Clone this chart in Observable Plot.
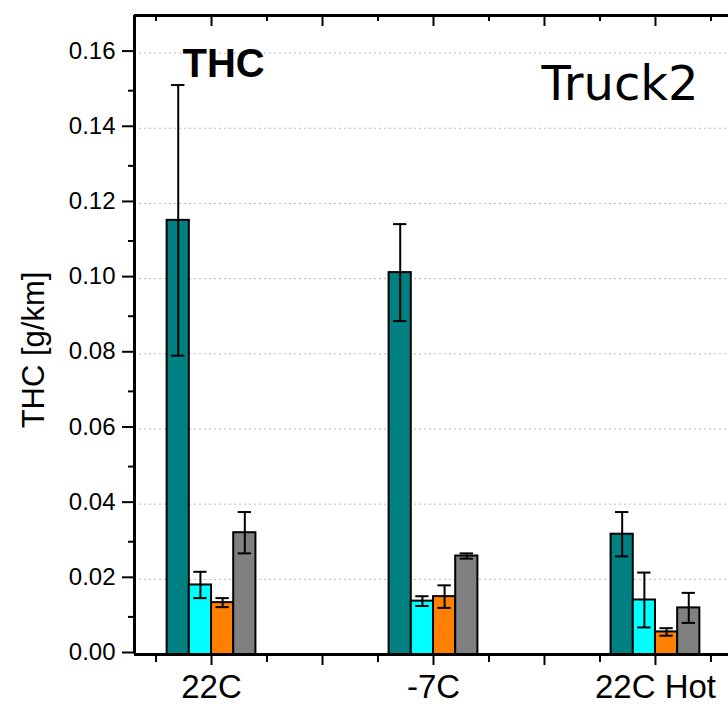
<!DOCTYPE html>
<html><head><meta charset="utf-8">
<script src="https://cdn.jsdelivr.net/npm/d3@7"></script>
<script src="https://cdn.jsdelivr.net/npm/@observablehq/plot@0.6"></script>
<style>html,body{margin:0;padding:0;background:#fff;overflow:hidden;}</style>
</head><body><div id="chart"></div>
<script>
const categories = ["22C", "-7C", "22C Hot"];
const seriesColors = ["#008080", "#00FFFF", "#FF8000", "#808080"];
const tealValues   = [0.1155, 0.1016, 0.0320];
const tealErrors   = [0.0360, 0.0129, 0.0059];
const cyanValues   = [0.0185, 0.0142, 0.0145];
const cyanErrors   = [0.0035, 0.0013, 0.0073];
const orangeValues = [0.0138, 0.0154, 0.0060];
const orangeErrors = [0.0012, 0.0030, 0.0010];
const grayValues   = [0.0324, 0.0262, 0.0124];
const grayErrors   = [0.0055, 0.0007, 0.0040];
const yTickValues  = [0, 0.02, 0.04, 0.06, 0.08, 0.10, 0.12, 0.14, 0.16];
const yMinorTicks  = [0.01, 0.03, 0.05, 0.07, 0.09, 0.11, 0.13, 0.15];
const panelTitle = "THC";
const vehicleLabel = "Truck2";
const yLabel = "THC [g/km]";

const seriesValues = [tealValues, cyanValues, orangeValues, grayValues];
const seriesErrors = [tealErrors, cyanErrors, orangeErrors, grayErrors];

const FONT = "'Liberation Sans', Arial, Helvetica, sans-serif";

// layout
const catPos = i => 1 + 2 * i;
const barW = 0.2;
const xDomain = [0.306, 5.658];
const yTop = 0.17;
const pxPerY = 639 / yTop;

const rows = [];
seriesValues.forEach((vals, j) => {
  vals.forEach((v, i) => {
    const cx = catPos(i) + (j - 1.5) * barW;
    rows.push({x: cx, value: v, err: seriesErrors[j][i], color: seriesColors[j]});
  });
});

const majorX = [1, 2, 3, 4, 5];
const minorX = [0.5, 1.5, 2.5, 3.5, 4.5, 5.5];
const labeledX = categories.map((c, i) => catPos(i));
const unlabeledX = majorX.filter(v => !labeledX.includes(v));

const plot = Plot.plot({
  width: 728,
  height: 704,
  marginLeft: 134,
  marginRight: 0,
  marginTop: 15,
  marginBottom: 50,
  style: {fontFamily: FONT, color: "#000", background: "#fff"},
  x: {domain: xDomain, label: null},
  y: {domain: [0, yTop], label: null},
  color: {type: "identity"},
  marks: [
    Plot.gridY(yTickValues.filter(v => v > 0), {stroke: "#b8b8b8", strokeOpacity: 1, strokeDasharray: "2,3", strokeWidth: 1}),
    Plot.rect(rows, {x1: d => d.x - barW / 2, x2: d => d.x + barW / 2, y1: 0, y2: "value", fill: "color", stroke: "#000", strokeWidth: 2}),
    Plot.ruleX(rows, {x: "x", y1: d => d.value - d.err, y2: d => d.value + d.err, stroke: "#000", strokeWidth: 2}),
    Plot.ruleY(rows, {y: d => d.value + d.err, x1: d => d.x - 0.06, x2: d => d.x + 0.06, stroke: "#000", strokeWidth: 2}),
    Plot.ruleY(rows, {y: d => d.value - d.err, x1: d => d.x - 0.06, x2: d => d.x + 0.06, stroke: "#000", strokeWidth: 2}),
    // axis lines
    Plot.ruleX([xDomain[0]], {y1: 0, y2: yTop, stroke: "#000", strokeWidth: 3}),
    Plot.ruleY([0], {stroke: "#000", strokeWidth: 3}),
    Plot.ruleY([yTop], {stroke: "#000", strokeWidth: 3}),
    // y axis
    Plot.axisY(yTickValues, {tickSize: 12, tickPadding: 7, tickFormat: d3.format(".2f"), fontSize: 24, fontFamily: FONT, strokeWidth: 2, dy: -2, label: null}),
    Plot.axisY(yMinorTicks, {tickSize: 6, text: null, strokeWidth: 2, label: null}),
    // x axis bottom
    Plot.axisX(labeledX, {tickSize: 11, tickPadding: 9, tickFormat: d => categories[(d - 1) / 2], fontSize: 33, fontFamily: FONT, strokeWidth: 2, label: null}),
    Plot.axisX(unlabeledX, {tickSize: 11, text: null, strokeWidth: 2, label: null}),
    Plot.axisX(minorX, {tickSize: 8, text: null, strokeWidth: 2, label: null}),
    // top inward ticks
    Plot.ruleX(majorX, {y1: yTop, y2: yTop - 11 / pxPerY, stroke: "#000", strokeWidth: 2}),
    Plot.ruleX(minorX, {y1: yTop, y2: yTop - 6 / pxPerY, stroke: "#000", strokeWidth: 2}),
    // texts
    Plot.text([yLabel], {frameAnchor: "left", rotate: -90, dx: -100, dy: 15, fontSize: 31, fontFamily: FONT, textAnchor: "middle", lineAnchor: "middle", fill: "#000"}),
    Plot.text([panelTitle], {frameAnchor: "top-left", textAnchor: "start", lineAnchor: "bottom", dx: 48, dy: 61, fontSize: 40, fontFamily: FONT, fontWeight: "bold", fill: "#000"}),
    Plot.text([vehicleLabel], {frameAnchor: "top-left", textAnchor: "start", lineAnchor: "bottom", dx: 407, dy: 84, fontSize: 48, fontFamily: "'DejaVu Sans', Verdana, sans-serif", fill: "#000"})
  ]
});
plot.setAttribute("font-family", FONT);
document.getElementById("chart").appendChild(plot);
</script>
</body></html>
